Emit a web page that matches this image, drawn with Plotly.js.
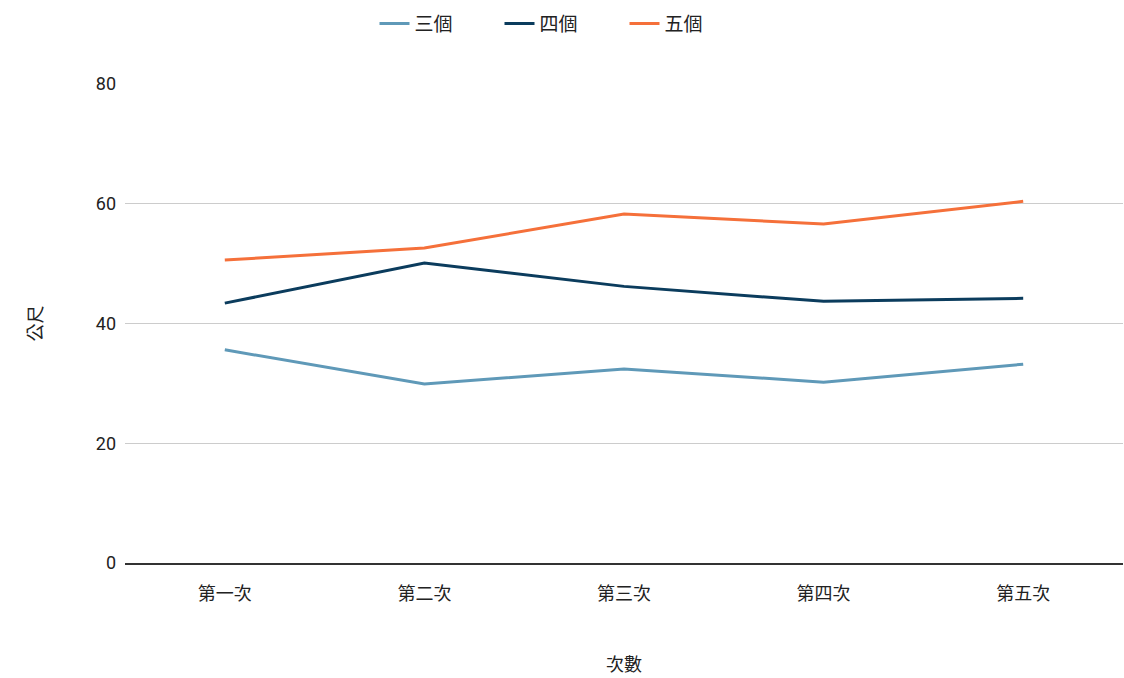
<!DOCTYPE html>
<html>
<head>
<meta charset="utf-8">
<script src="https://cdn.plot.ly/plotly-3.0.1.min.js"></script>
<style>html,body{margin:0;padding:0;background:#fff;}#chart{width:1124px;height:678px;}</style>
</head>
<body>
<div id="chart"></div>
<script>
const categories = ["第一次", "第二次", "第三次", "第四次", "第五次"];
const seriesNames = ["三個", "四個", "五個"];
const three = [35.6, 29.9, 32.4, 30.2, 33.2];
const four = [43.4, 50.1, 46.2, 43.7, 44.2];
const five = [50.6, 52.6, 58.3, 56.6, 60.4];
const yTicks = [0, 20, 40, 60, 80];
const colors = ["#5f99b8", "#0b3c5d", "#f5703a"];

const font = "Roboto, 'Noto Sans CJK TC', sans-serif";
const data = [three, four, five].map((vals, i) => ({
  type: "scatter", mode: "lines", x: categories, y: vals, name: seriesNames[i],
  line: {color: colors[i], width: 3}
}));

const layout = {
  width: 1124, height: 678,
  margin: {l: 125, r: 1, t: 84, b: 115, autoexpand: false},
  paper_bgcolor: "#fff", plot_bgcolor: "#fff",
  font: {family: font, size: 18, color: "#222"},
  showlegend: true,
  legend: {orientation: "h", x: 0.5, xref: "container", xanchor: "center",
           y: 0.965, yref: "container", yanchor: "middle",
           font: {size: 19, color: "#222"}, itemwidth: 30, traceorder: "normal",
           entrywidth: 80, entrywidthmode: "pixels"},
  xaxis: {
    type: "category", range: [-0.5, 4.5], showgrid: false, zeroline: false,
    showline: true, linecolor: "#333", linewidth: 1.5,
    ticks: "", ticklabelstandoff: 14, tickfont: {size: 18, color: "#222"},
    title: {text: "次數", font: {size: 18, color: "#222"}, standoff: 55}
  },
  yaxis: {
    range: [0, 80], tickvals: yTicks, ticktext: yTicks.map(String),
    showgrid: true, gridcolor: "#cccccc", gridwidth: 1, zeroline: false,
    showline: false, ticks: "", ticklabelstandoff: 8, tickfont: {size: 18, color: "#222"},
    title: {text: "公尺", font: {size: 18, color: "#222"}, standoff: 48}
  }
};
Plotly.newPlot("chart", data, layout, {displayModeBar: false, staticPlot: true});
</script>
</body>
</html>
